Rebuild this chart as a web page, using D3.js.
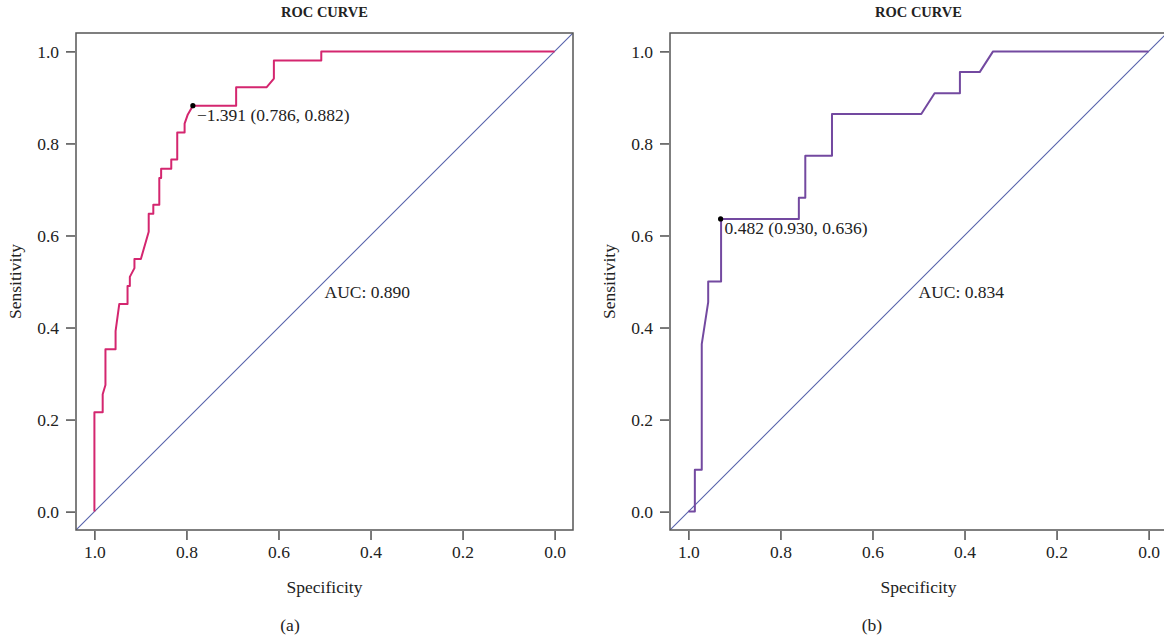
<!DOCTYPE html>
<html>
<head>
<meta charset="utf-8">
<script src="https://cdn.jsdelivr.net/npm/d3@7"></script>
<style>
  body { margin: 0; background: #fff; }
  svg text { font-family: "Liberation Serif", "DejaVu Serif", serif; fill: #222; }
</style>
</head>
<body>
<div id="wrapper"></div>
<script>
// ROC (a): specificity / sensitivity pairs
const specA = [1.000, 1.000, 0.982, 0.982, 0.976, 0.976, 0.954, 0.954, 0.946, 0.928, 0.928, 0.923, 0.923,
  0.913, 0.913, 0.899, 0.882, 0.882, 0.872, 0.872, 0.859, 0.859, 0.855, 0.855, 0.833, 0.833, 0.820, 0.820,
  0.804, 0.804, 0.797, 0.786, 0.692, 0.692, 0.626, 0.610, 0.610, 0.507, 0.507, 0.000];
const sensA = [0.000, 0.216, 0.216, 0.255, 0.275, 0.353, 0.353, 0.392, 0.451, 0.451, 0.490, 0.490, 0.510,
  0.529, 0.549, 0.549, 0.608, 0.647, 0.647, 0.667, 0.667, 0.725, 0.725, 0.745, 0.745, 0.765, 0.765, 0.824,
  0.824, 0.843, 0.863, 0.882, 0.882, 0.922, 0.922, 0.941, 0.980, 0.980, 1.000, 1.000];

// ROC (b)
const specB = [1.000, 0.986, 0.986, 0.971, 0.971, 0.957, 0.957, 0.929, 0.929, 0.760, 0.760, 0.746, 0.746,
  0.688, 0.688, 0.494, 0.465, 0.410, 0.410, 0.367, 0.338, 0.000];
const sensB = [0.000, 0.000, 0.091, 0.091, 0.364, 0.455, 0.500, 0.500, 0.636, 0.636, 0.682, 0.682, 0.773,
  0.773, 0.864, 0.864, 0.909, 0.909, 0.955, 0.955, 1.000, 1.000];

// best thresholds and AUC
const bestA = { spec: 0.786, sens: 0.882, label: "\u22121.391 (0.786, 0.882)" };
const bestB = { spec: 0.930, sens: 0.636, label: "0.482 (0.930, 0.636)" };
const aucLabels = ["AUC: 0.890", "AUC: 0.834"];
const panelTags = ["(a)", "(b)"];
const tickValues = [0, 0.2, 0.4, 0.6, 0.8, 1.0];

const width = 1164, height = 638;

const svg = d3.select("#wrapper").append("svg")
  .attr("width", width)
  .attr("height", height);

function drawPanel(spec, sens, best, auc, tag, opts) {
  const box = { left: opts.left, right: opts.left + 497, top: 33, bottom: 530 };

  const x = d3.scaleLinear().domain([1.04, -0.04]).range([box.left, box.right]);
  const y = d3.scaleLinear().domain([-0.04, 1.04]).range([box.bottom, box.top]);

  const g = svg.append("g");

  const clipId = "clip-" + opts.id;
  g.append("clipPath").attr("id", clipId)
    .append("rect")
    .attr("x", box.left).attr("y", box.top)
    .attr("width", box.right - box.left).attr("height", box.bottom - box.top);

  // chance diagonal
  g.append("line")
    .attr("clip-path", `url(#${clipId})`)
    .attr("x1", x(1.04)).attr("y1", y(-0.04))
    .attr("x2", x(-0.04)).attr("y2", y(1.04))
    .attr("stroke", "#5561ab")
    .attr("stroke-width", 1.1);

  // roc curve
  const pts = spec.map((s, i) => [s, sens[i]]);
  const line = d3.line().x(d => x(d[0])).y(d => y(d[1]));
  g.append("path")
    .attr("d", line(pts))
    .attr("fill", "none")
    .attr("stroke", opts.color)
    .attr("stroke-width", 2)
    .attr("stroke-linejoin", "round");

  // box
  g.append("rect")
    .attr("x", box.left).attr("y", box.top)
    .attr("width", box.right - box.left).attr("height", box.bottom - box.top)
    .attr("fill", "none")
    .attr("stroke", "#555")
    .attr("stroke-width", 1.5);

  // axes
  const yAxis = g.append("g")
    .attr("transform", `translate(${box.left - 1},0)`)
    .call(d3.axisLeft(y).tickValues(tickValues).tickFormat(d3.format(".1f")).tickSize(9).tickPadding(7));
  const xAxis = g.append("g")
    .attr("transform", `translate(0,${box.bottom + 1})`)
    .call(d3.axisBottom(x).tickValues(tickValues).tickFormat(d3.format(".1f")).tickSize(9).tickPadding(6));
  [xAxis, yAxis].forEach(a => {
    a.select(".domain").remove();
    a.selectAll(".tick line").attr("stroke", "#333").attr("stroke-width", 1.3);
    a.selectAll(".tick text")
      .style("font-family", "Liberation Serif, serif")
      .style("font-size", "17.5px")
      .attr("fill", "#222");
  });

  // best threshold point and label
  g.append("circle")
    .attr("cx", x(best.spec)).attr("cy", y(best.sens))
    .attr("r", 2.6).attr("fill", "#000");
  g.append("text")
    .attr("x", x(best.spec) + 4)
    .attr("y", y(best.sens) + 15)
    .style("font-size", "17.5px")
    .text(best.label);

  // auc
  g.append("text")
    .attr("x", x(0.5))
    .attr("y", y(0.5) + 16)
    .style("font-size", "17.5px")
    .text(auc);

  // titles
  const midBox = (box.left + box.right) / 2;
  g.append("text")
    .attr("x", midBox).attr("y", 17)
    .attr("text-anchor", "middle")
    .style("font-size", "14.5px")
    .style("font-weight", "bold")
    .text("ROC CURVE");
  g.append("text")
    .attr("x", midBox).attr("y", 593)
    .attr("text-anchor", "middle")
    .style("font-size", "17.5px")
    .text("Specificity");
  g.append("text")
    .attr("transform", `translate(${box.left - 55},${(box.top + box.bottom) / 2}) rotate(-90)`)
    .attr("text-anchor", "middle")
    .style("font-size", "17.5px")
    .text("Sensitivity");
  g.append("text")
    .attr("x", opts.tagX).attr("y", 631)
    .attr("text-anchor", "middle")
    .style("font-size", "17.5px")
    .text(tag);
}

drawPanel(specA, sensA, bestA, aucLabels[0], panelTags[0], { id: "a", left: 76, color: "#d4266f", tagX: 290 });
drawPanel(specB, sensB, bestB, aucLabels[1], panelTags[1], { id: "b", left: 670, color: "#7349a0", tagX: 872 });
</script>
</body>
</html>
